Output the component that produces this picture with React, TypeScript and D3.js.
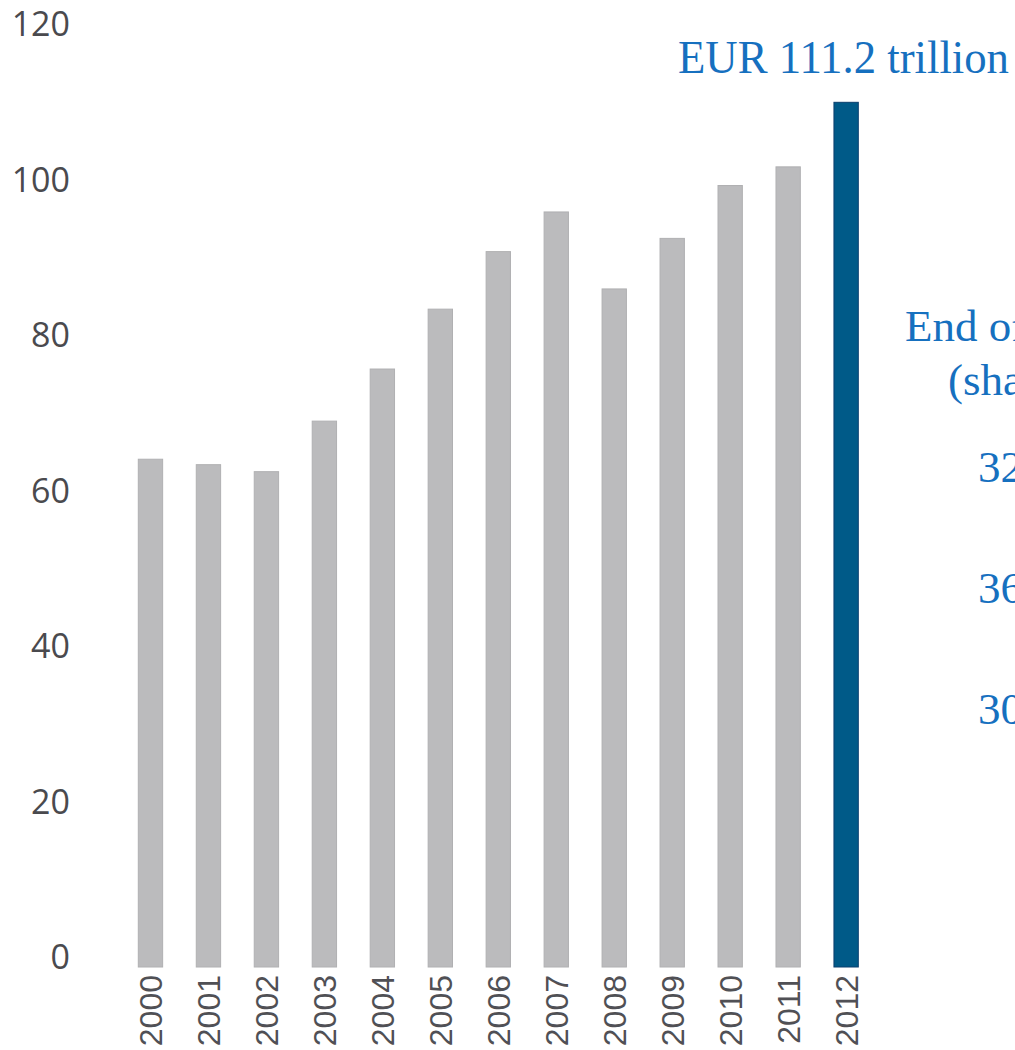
import * as d3 from 'd3';

const WIDTH = 1015;
const HEIGHT = 1050;

const years = ['2000', '2001', '2002', '2003', '2004', '2005', '2006', '2007', '2008', '2009', '2010', '2011', '2012'];
const values = [65.3, 64.6, 63.7, 70.2, 76.9, 84.6, 92.0, 97.1, 87.2, 93.7, 100.5, 102.9, 111.2];
const yTicks = [0, 20, 40, 60, 80, 100, 120];

const headline = 'EUR 111.2 trillion';
// side note, cut off by the right edge in the reference
const sideLines = ['End of 2012', '(share in %)'];
const sideShares = ['32%', '36%', '30%'];

const GREY = '#bbbbbd';
const BLUE = '#005a88';
const TEXT_BLUE = '#1670bf';

function App() {
  const x = d3.scaleBand<string>()
    .domain(years)
    .range([138.3, 858.3])
    .paddingInner(0.58)
    .paddingOuter(0);

  const y = d3.scaleLinear()
    .domain([0, 120])
    .range([967, 967 - 120 * 7.776]);

  const last = years[years.length - 1];

  return (
    <svg
      width={WIDTH}
      height={HEIGHT}
      style={{position: 'absolute', left: 0, top: 0, background: '#fff'}}
    >
      {yTicks.map((t) => (
        <text
          key={t}
          x={70}
          y={y(t) - 10}
          dy="0.36em"
          textAnchor="end"
          fontFamily="'Open Sans', sans-serif"
          fontSize={34}
          fill="#4a4a4e"
        >
          {t}
        </text>
      ))}

      {years.map((yr, i) => (
        <rect
          key={yr}
          x={x(yr)}
          y={y(values[i])}
          width={x.bandwidth()}
          height={y(0) - y(values[i])}
          fill={yr === last ? BLUE : GREY}
          stroke={yr === last ? '#0b3f6e' : '#b0b0b2'}
          strokeWidth={1}
        />
      ))}

      {years.map((yr) => (
        <text
          key={yr}
          transform={`translate(${x(yr)! + x.bandwidth() / 2},975) rotate(-90)`}
          dy="0.36em"
          textAnchor="end"
          fontFamily="'Liberation Sans', Arial, sans-serif"
          fontSize={32}
          fill="#505055"
        >
          {yr}
        </text>
      ))}

      <text
        x={678}
        y={73}
        fontFamily="'Liberation Serif', serif"
        fontSize={46}
        textLength={331}
        lengthAdjust="spacingAndGlyphs"
        fill={TEXT_BLUE}
      >
        {headline}
      </text>

      <g fontFamily="'Liberation Serif', serif" fontSize={45} fill={TEXT_BLUE}>
        <text x={905} y={341}>{sideLines[0]}</text>
        <text x={948} y={395}>{sideLines[1]}</text>
        {sideShares.map((s, i) => (
          <text key={s} x={978} y={482 + i * 121}>{s}</text>
        ))}
      </g>
    </svg>
  );
}

export default App;
